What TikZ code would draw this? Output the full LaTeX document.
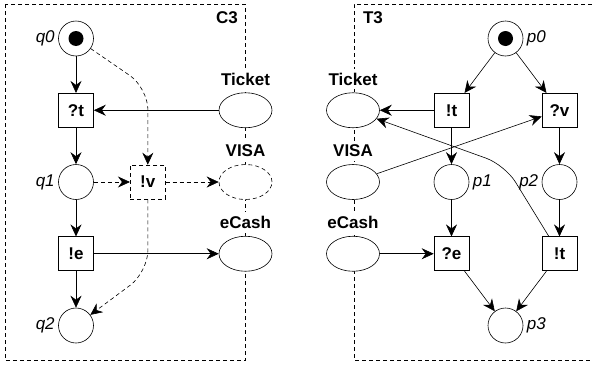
\documentclass[tikz,border=0pt]{standalone}
\usepackage{fontspec}
\setmainfont{Liberation Sans}
\usetikzlibrary{shapes.geometric, arrows.meta}
\newcommand{\netsize}{\fontsize{17}{20}\selectfont}
\tikzstyle{place} = [circle, minimum size=35pt, inner sep=0pt, draw=black, line width=0.6pt, fill=white]
\tikzstyle{token} = [circle, minimum size=15pt, inner sep=0pt, fill=black]
\tikzstyle{trans} = [rectangle, minimum width=35pt, minimum height=34pt, inner sep=0pt, draw=black, line width=0.6pt, fill=white, font=\netsize\bfseries]
\tikzstyle{chan} = [ellipse, minimum width=53pt, minimum height=35pt, inner sep=0pt, draw=black, line width=0.6pt, fill=white]
\tikzstyle{chanlbl} = [fill=white, inner sep=4pt, label distance=3pt, font=\netsize\bfseries]
\tikzstyle{plbl} = [font=\netsize\itshape]
\tikzstyle{arrow} = [line width=0.6pt, -{Stealth[length=12pt,width=11pt,inset=4pt]}]
\tikzstyle{dasharrow} = [arrow, dash pattern=on 4pt off 3pt]
\tikzstyle{frame} = [line width=0.6pt, dash pattern=on 4pt off 3pt]

\begin{document}
\begin{tikzpicture}[x=1pt, y=-1pt, node distance=71.75pt]
\useasboundingbox (0,0) rectangle (592,367);
% frames
\draw [frame] (5,4) rectangle (245.5,360);
\draw [frame] (592,4) -- (354,4) -- (354,360) -- (592,360);
\node (c3) [font=\netsize\bfseries] at (227,18) {C3};
\node (t3) [font=\netsize\bfseries] at (373,18) {T3};

% C3
\node (q0) [place, label={[plbl]left:q0}] at (76,38.5) {};
\node (tok0) [token] at (q0) {};
\node (tt) [trans, below of=q0] {?t};
\node (q1) [place, below of=tt, label={[plbl]left:q1}] {};
\node (te) [trans, below of=q1] {!e};
\node (q2) [place, below of=te, label={[plbl]left:q2}] {};
\node (tv) [trans, right of=q1, dash pattern=on 4pt off 3pt] {!v};
\node (tic1) [chan, right of=tt, xshift=97.75pt, label={[chanlbl]above:Ticket}] {};
\node (visa1) [chan, below of=tic1, dash pattern=on 4pt off 3pt, label={[chanlbl]above:VISA}] {};
\node (cash1) [chan, below of=visa1, label={[chanlbl]above:eCash}] {};
\coordinate (vbend1) at (148,88);
\coordinate (vbend2) at (148,272);

\draw [arrow] (q0) -- (tt);
\draw [arrow] (tt) -- (q1);
\draw [arrow] (q1) -- (te);
\draw [arrow] (te) -- (q2);
\draw [arrow] (tic1) -- (tt);
\draw [arrow] (te) -- (cash1);
\draw [dasharrow] (q1) -- (tv);
\draw [dasharrow] (tv) -- (visa1);
\draw [dasharrow, rounded corners=22pt] (q0) -- (vbend1) -- (tv);
\draw [dasharrow, rounded corners=22pt] (tv) -- (vbend2) -- (q2);

% T3
\node (p0) [place, label={[plbl]right:p0}] at (505.5,38.5) {};
\node (tok1) [token] at (p0) {};
\node (tt2) [trans, below of=p0, xshift=-54pt] {!t};
\node (tv2) [trans, below of=p0, xshift=54pt] {?v};
\node (p1) [place, below of=tt2, label={[plbl]right:p1}] {};
\node (p2) [place, below of=tv2, label={[plbl]left:p2}] {};
\node (te2) [trans, below of=p1] {?e};
\node (tt3) [trans, below of=p2] {!t};
\node (p3) [place, label={[plbl]right:p3}] at (505.5,325.5) {};
\node (tic2) [chan, left of=tt2, xshift=-26.75pt, label={[chanlbl]above:Ticket}] {};
\node (visa2) [chan, below of=tic2, label={[chanlbl]above:VISA}] {};
\node (cash2) [chan, below of=visa2, label={[chanlbl]above:eCash}] {};
\coordinate (tbend) at (505,165);

\draw [arrow] (p0) -- (tt2);
\draw [arrow] (p0) -- (tv2);
\draw [arrow] (tt2) -- (tic2);
\draw [arrow] (tt2) -- (p1);
\draw [arrow] (tv2) -- (p2);
\draw [arrow] (visa2) -- (tv2);
\draw [arrow] (p1) -- (te2);
\draw [arrow] (p2) -- (tt3);
\draw [arrow] (cash2) -- (te2);
\draw [arrow] (te2) -- (p3);
\draw [arrow] (tt3) -- (p3);
\draw [arrow, rounded corners=20pt] (tt3) -- (tbend) -- (tic2);
\end{tikzpicture}
\end{document}
